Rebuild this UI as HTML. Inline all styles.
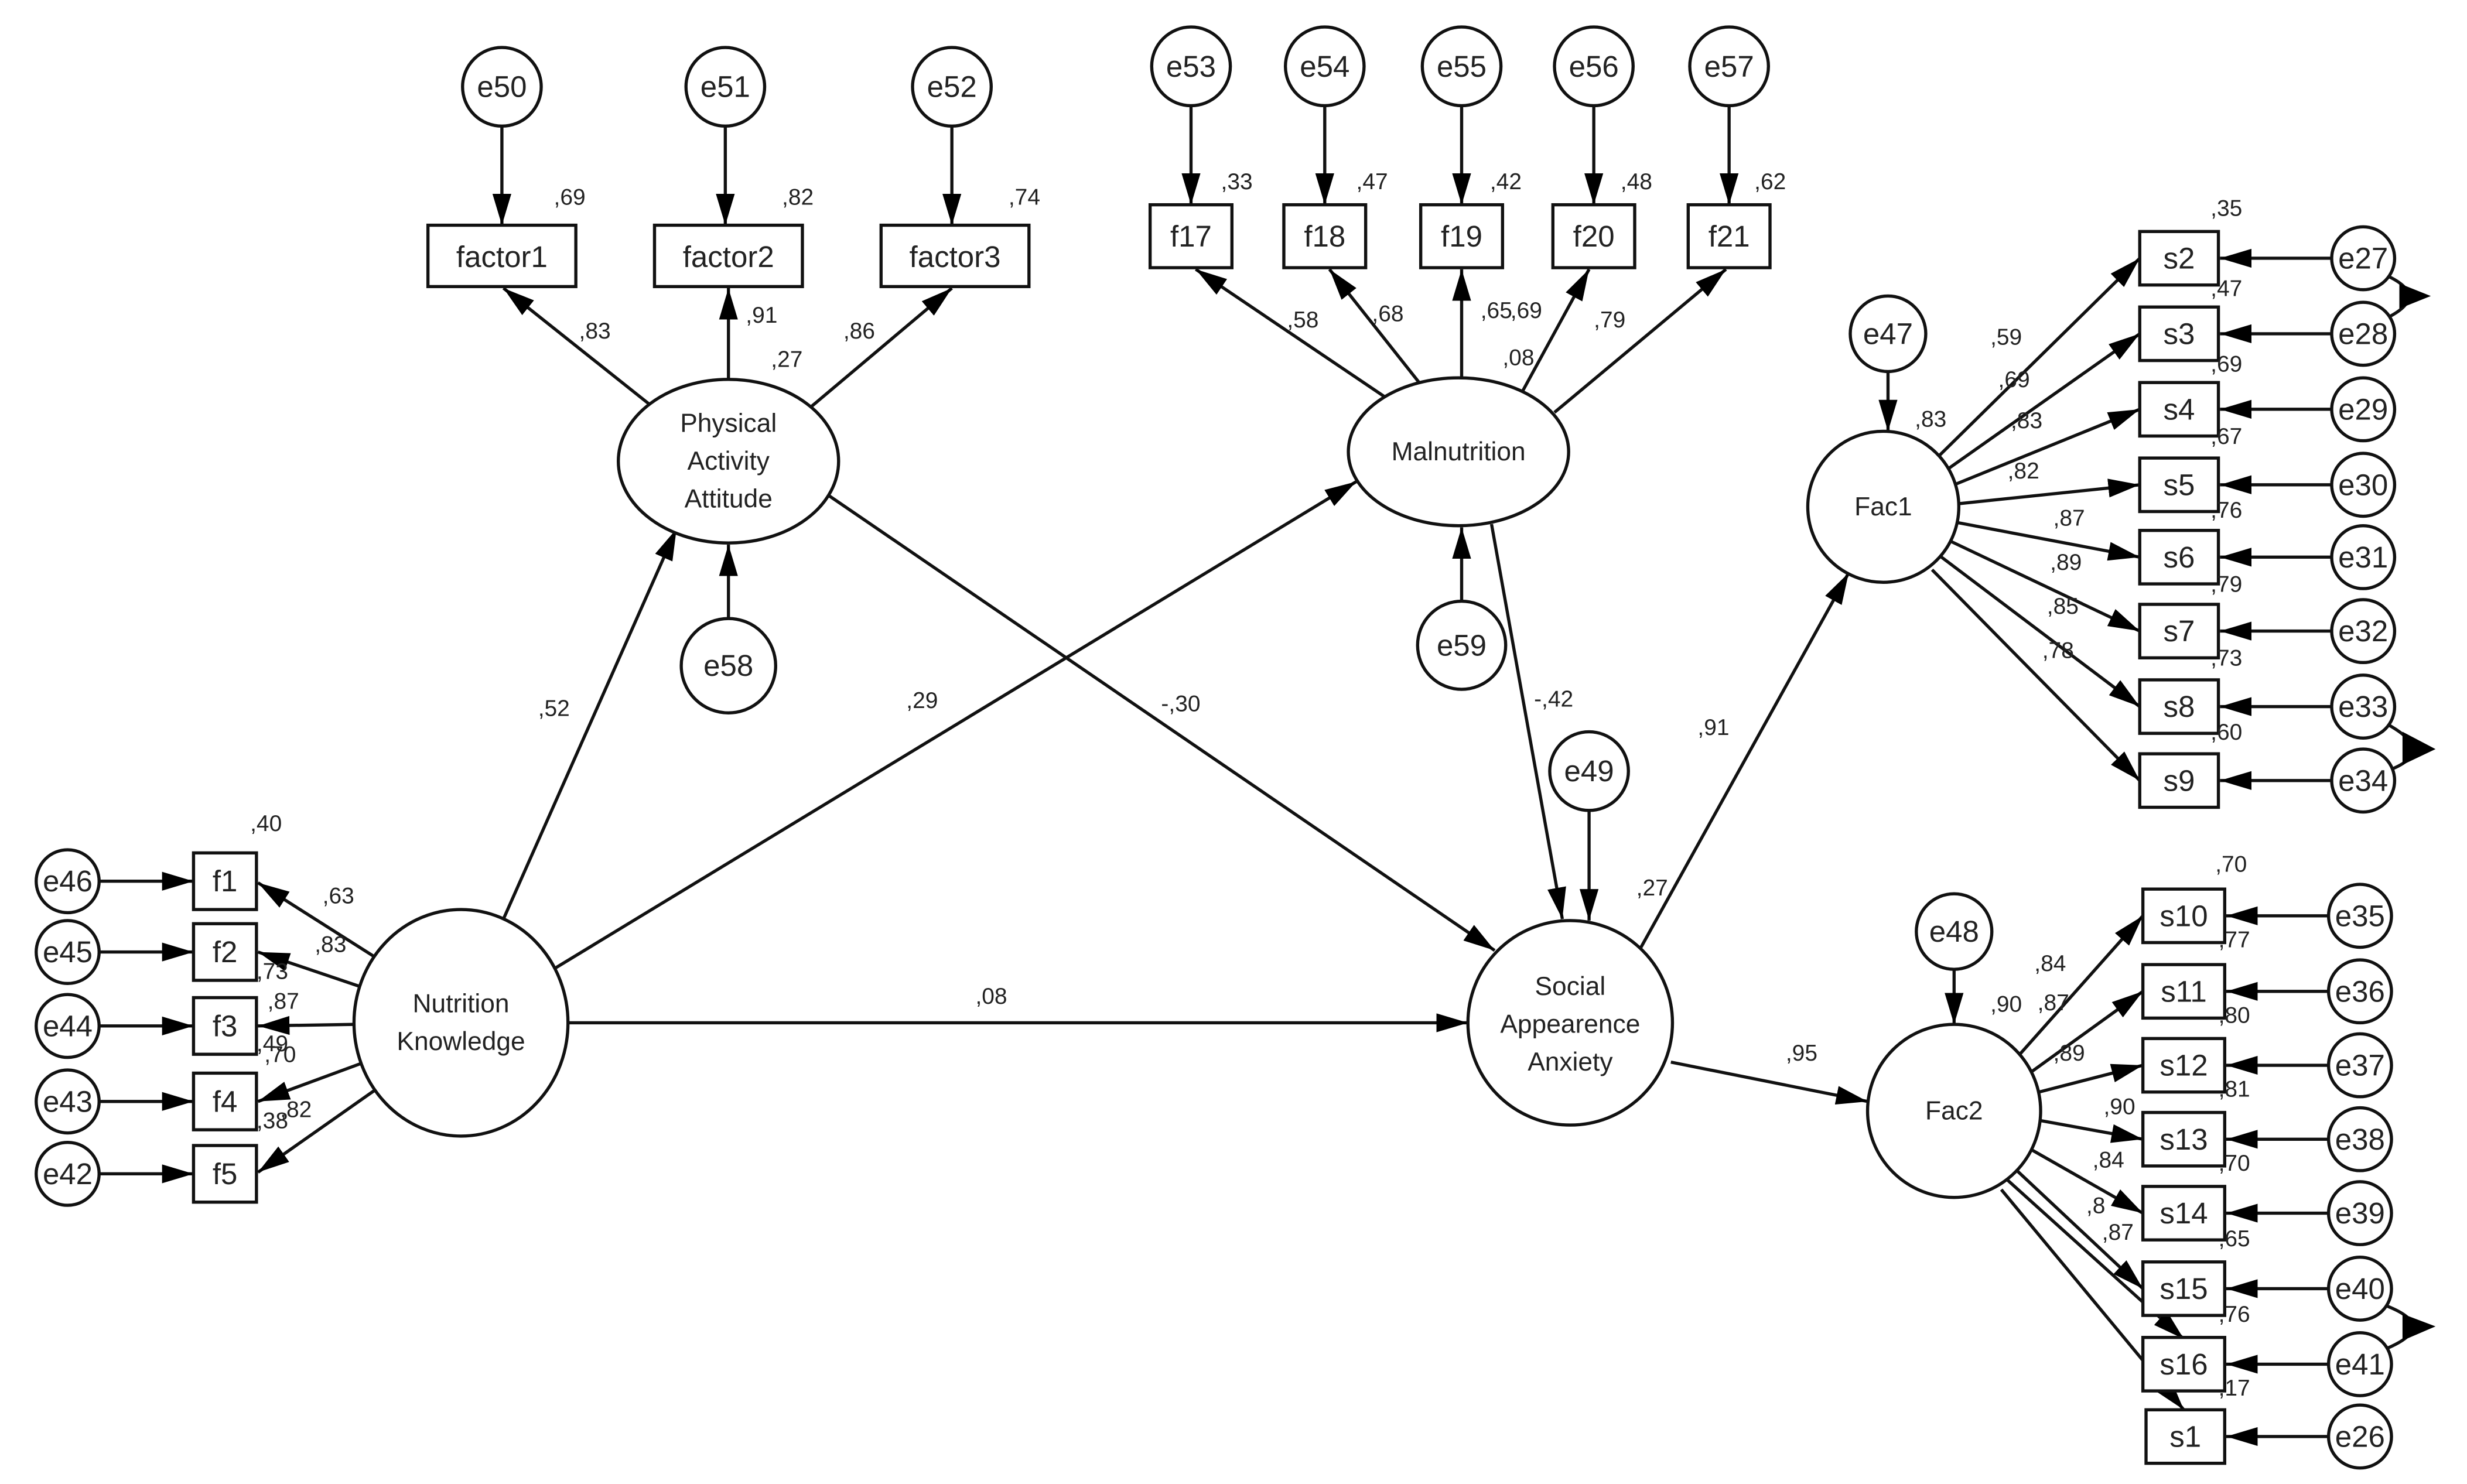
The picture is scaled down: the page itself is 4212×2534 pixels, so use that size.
<!DOCTYPE html>
<html><head><meta charset="utf-8"><style>
html,body{margin:0;padding:0;background:#fff;}
svg{display:block;}
text{font-family:"Liberation Sans",Arial,sans-serif;fill:#222;}
.n{font-size:19px;text-anchor:middle;dominant-baseline:central;}
.l{font-size:14.5px;}
.s{font-size:16.5px;text-anchor:middle;dominant-baseline:central;}
</style></head><body>
<svg width="4212" height="2534" viewBox="0 0 1568 943" xmlns="http://www.w3.org/2000/svg">
<defs>
<marker id="a" viewBox="0 0 20 12" refX="20" refY="6" markerWidth="20" markerHeight="12" markerUnits="userSpaceOnUse" orient="auto">
<path d="M0,0 L20,6 L0,12 Z" fill="#000"/></marker>
</defs>
<rect width="1568" height="943" fill="#fff"/>
<g stroke="#111" stroke-width="2" fill="none" marker-end="url(#a)">
<!-- top PAA -->
<line x1="319" y1="80" x2="319" y2="143"/>
<line x1="461" y1="80" x2="461" y2="143"/>
<line x1="605" y1="80" x2="605" y2="143"/>
<line x1="413" y1="257" x2="320" y2="183"/>
<line x1="463" y1="241" x2="463" y2="183"/>
<line x1="516" y1="258" x2="605" y2="183"/>
<line x1="463" y1="393" x2="463" y2="346"/>
<!-- malnutrition -->
<line x1="757" y1="67" x2="757" y2="130"/>
<line x1="842" y1="67" x2="842" y2="130"/>
<line x1="929" y1="67" x2="929" y2="130"/>
<line x1="1013" y1="67" x2="1013" y2="130"/>
<line x1="1099" y1="67" x2="1099" y2="130"/>
<line x1="880" y1="252" x2="760" y2="171"/>
<line x1="902" y1="243" x2="845" y2="171"/>
<line x1="929" y1="240" x2="929" y2="171"/>
<line x1="968" y1="248" x2="1010" y2="171"/>
<line x1="988" y1="262" x2="1097" y2="171"/>
<line x1="929" y1="382" x2="929" y2="335"/>
<!-- structural -->
<line x1="320" y1="584" x2="430" y2="336"/>
<line x1="350" y1="617" x2="862" y2="306"/>
<line x1="527" y1="315" x2="950" y2="604"/>
<line x1="948" y1="333" x2="993" y2="584"/>
<line x1="1010" y1="515" x2="1010" y2="585"/>
<line x1="361" y1="650" x2="933" y2="650"/>
<line x1="1043" y1="602" x2="1175" y2="364"/>
<line x1="1062" y1="675" x2="1187" y2="700"/>
<!-- NK indicators -->
<line x1="238" y1="608" x2="164" y2="561"/>
<line x1="229" y1="627" x2="164" y2="605"/>
<line x1="225" y1="651" x2="164" y2="652"/>
<line x1="229" y1="676" x2="164" y2="700"/>
<line x1="238" y1="693" x2="164" y2="745"/>
<line x1="63" y1="560" x2="123" y2="560"/>
<line x1="63" y1="605" x2="123" y2="605"/>
<line x1="63" y1="652" x2="123" y2="652"/>
<line x1="63" y1="700" x2="123" y2="700"/>
<line x1="63" y1="746" x2="123" y2="746"/>
<!-- Fac1 -->
<line x1="1200" y1="236" x2="1200" y2="274"/>
<line x1="1232" y1="290" x2="1360" y2="164"/>
<line x1="1238" y1="298" x2="1360" y2="212"/>
<line x1="1242" y1="308" x2="1360" y2="260"/>
<line x1="1245" y1="320" x2="1360" y2="308"/>
<line x1="1244" y1="332" x2="1360" y2="354"/>
<line x1="1240" y1="344" x2="1360" y2="401"/>
<line x1="1234" y1="354" x2="1360" y2="449"/>
<line x1="1228" y1="362" x2="1360" y2="496"/>
<line x1="1482" y1="164" x2="1411" y2="164"/>
<line x1="1482" y1="212" x2="1411" y2="212"/>
<line x1="1482" y1="260" x2="1411" y2="260"/>
<line x1="1482" y1="308" x2="1411" y2="308"/>
<line x1="1482" y1="354" x2="1411" y2="354"/>
<line x1="1482" y1="401" x2="1411" y2="401"/>
<line x1="1482" y1="449" x2="1411" y2="449"/>
<line x1="1482" y1="496" x2="1411" y2="496"/>
<!-- Fac2 -->
<line x1="1242" y1="616" x2="1242" y2="651"/>
<line x1="1282" y1="672" x2="1362" y2="582"/>
<line x1="1290" y1="682" x2="1362" y2="630"/>
<line x1="1296" y1="694" x2="1362" y2="677"/>
<line x1="1296" y1="712" x2="1362" y2="724"/>
<line x1="1290" y1="730" x2="1362" y2="771"/>
<line x1="1282" y1="744" x2="1362" y2="819"/>
<line x1="1276" y1="750" x2="1388" y2="851"/>
<line x1="1272" y1="756" x2="1388" y2="896"/>
<line x1="1480" y1="582" x2="1415" y2="582"/>
<line x1="1480" y1="630" x2="1415" y2="630"/>
<line x1="1480" y1="677" x2="1415" y2="677"/>
<line x1="1480" y1="724" x2="1415" y2="724"/>
<line x1="1480" y1="771" x2="1415" y2="771"/>
<line x1="1480" y1="819" x2="1415" y2="819"/>
<line x1="1480" y1="867" x2="1415" y2="867"/>
<line x1="1480" y1="913" x2="1415" y2="913"/>
</g>
<!-- covariances -->
<g stroke="#111" stroke-width="2" fill="none">
<path d="M1517,175 Q1545,188 1517,202"/>
<path d="M1517,460 Q1550,478 1517,490"/>
<path d="M1517,830 Q1550,843 1517,857"/>
</g>
<g fill="#000">
<path d="M1525,180 L1545,188 L1525,196 Z"/>
<path d="M1527,465 L1548,476 L1527,486 Z"/>
<path d="M1527,835 L1548,843 L1527,852 Z"/>
</g>
<!-- shapes -->
<g stroke="#111" stroke-width="2" fill="#fff">
<circle cx="319" cy="55" r="25"/><circle cx="461" cy="55" r="25"/><circle cx="605" cy="55" r="25"/>
<rect x="272" y="143" width="94" height="39"/><rect x="416" y="143" width="94" height="39"/><rect x="560" y="143" width="94" height="39"/>
<ellipse cx="463" cy="293" rx="70" ry="52"/>
<circle cx="463" cy="423" r="30"/>
<circle cx="757" cy="42" r="25"/><circle cx="842" cy="42" r="25"/><circle cx="929" cy="42" r="25"/><circle cx="1013" cy="42" r="25"/><circle cx="1099" cy="42" r="25"/>
<rect x="731" y="130" width="52" height="40"/><rect x="816" y="130" width="52" height="40"/><rect x="903" y="130" width="52" height="40"/><rect x="987" y="130" width="52" height="40"/><rect x="1073" y="130" width="52" height="40"/>
<ellipse cx="927" cy="287" rx="70" ry="47"/>
<circle cx="929" cy="410" r="28"/>
<ellipse cx="293" cy="650" rx="68" ry="72"/>
<rect x="123" y="542" width="40" height="36"/><rect x="123" y="587" width="40" height="36"/><rect x="123" y="634" width="40" height="36"/><rect x="123" y="682" width="40" height="36"/><rect x="123" y="728" width="40" height="36"/>
<circle cx="43" cy="560" r="20"/><circle cx="43" cy="605" r="20"/><circle cx="43" cy="652" r="20"/><circle cx="43" cy="700" r="20"/><circle cx="43" cy="746" r="20"/>
<circle cx="998" cy="650" r="65"/>
<circle cx="1010" cy="490" r="25"/>
<circle cx="1197" cy="322" r="48"/><circle cx="1200" cy="212" r="24"/>
<rect x="1360" y="147" width="50" height="34"/><rect x="1360" y="195" width="50" height="34"/><rect x="1360" y="243" width="50" height="34"/><rect x="1360" y="291" width="50" height="34"/><rect x="1360" y="337" width="50" height="34"/><rect x="1360" y="384" width="50" height="34"/><rect x="1360" y="432" width="50" height="34"/><rect x="1360" y="479" width="50" height="34"/>
<circle cx="1502" cy="164" r="20"/><circle cx="1502" cy="212" r="20"/><circle cx="1502" cy="260" r="20"/><circle cx="1502" cy="308" r="20"/><circle cx="1502" cy="354" r="20"/><circle cx="1502" cy="401" r="20"/><circle cx="1502" cy="449" r="20"/><circle cx="1502" cy="496" r="20"/>
<circle cx="1242" cy="706" r="55"/><circle cx="1242" cy="592" r="24"/>
<rect x="1362" y="565" width="52" height="34"/><rect x="1362" y="613" width="52" height="34"/><rect x="1362" y="660" width="52" height="34"/><rect x="1362" y="707" width="52" height="34"/><rect x="1362" y="754" width="52" height="34"/><rect x="1362" y="802" width="52" height="34"/><rect x="1362" y="850" width="52" height="34"/><rect x="1364" y="896" width="50" height="34"/>
<circle cx="1500" cy="582" r="20"/><circle cx="1500" cy="630" r="20"/><circle cx="1500" cy="677" r="20"/><circle cx="1500" cy="724" r="20"/><circle cx="1500" cy="771" r="20"/><circle cx="1500" cy="819" r="20"/><circle cx="1500" cy="867" r="20"/><circle cx="1500" cy="913" r="20"/>
</g>
<!-- node labels -->
<g class="n">
<text x="319" y="55">e50</text><text x="461" y="55">e51</text><text x="605" y="55">e52</text>
<text x="319" y="163">factor1</text><text x="463" y="163">factor2</text><text x="607" y="163">factor3</text>
<text x="463" y="423">e58</text>
<text x="757" y="42">e53</text><text x="842" y="42">e54</text><text x="929" y="42">e55</text><text x="1013" y="42">e56</text><text x="1099" y="42">e57</text>
<text x="757" y="150">f17</text><text x="842" y="150">f18</text><text x="929" y="150">f19</text><text x="1013" y="150">f20</text><text x="1099" y="150">f21</text>
<text x="929" y="410">e59</text>
<text x="143" y="560">f1</text><text x="143" y="605">f2</text><text x="143" y="652">f3</text><text x="143" y="700">f4</text><text x="143" y="746">f5</text>
<text x="43" y="560">e46</text><text x="43" y="605">e45</text><text x="43" y="652">e44</text><text x="43" y="700">e43</text><text x="43" y="746">e42</text>
<text x="1010" y="490">e49</text>
<text x="1200" y="212">e47</text><text x="1242" y="592">e48</text>
<text x="1385" y="164">s2</text><text x="1385" y="212">s3</text><text x="1385" y="260">s4</text><text x="1385" y="308">s5</text><text x="1385" y="354">s6</text><text x="1385" y="401">s7</text><text x="1385" y="449">s8</text><text x="1385" y="496">s9</text>
<text x="1502" y="164">e27</text><text x="1502" y="212">e28</text><text x="1502" y="260">e29</text><text x="1502" y="308">e30</text><text x="1502" y="354">e31</text><text x="1502" y="401">e32</text><text x="1502" y="449">e33</text><text x="1502" y="496">e34</text>
<text x="1388" y="582">s10</text><text x="1388" y="630">s11</text><text x="1388" y="677">s12</text><text x="1388" y="724">s13</text><text x="1388" y="771">s14</text><text x="1388" y="819">s15</text><text x="1388" y="867">s16</text><text x="1389" y="913">s1</text>
<text x="1500" y="582">e35</text><text x="1500" y="630">e36</text><text x="1500" y="677">e37</text><text x="1500" y="724">e38</text><text x="1500" y="771">e39</text><text x="1500" y="819">e40</text><text x="1500" y="867">e41</text><text x="1500" y="913">e26</text>
</g>
<g class="s">
<text x="463" y="269">Physical</text><text x="463" y="293">Activity</text><text x="463" y="317">Attitude</text>
<text x="927" y="287">Malnutrition</text>
<text x="293" y="638">Nutrition</text><text x="293" y="662">Knowledge</text>
<text x="998" y="627">Social</text><text x="998" y="651">Appearence</text><text x="998" y="675">Anxiety</text>
<text x="1197" y="322">Fac1</text><text x="1242" y="706">Fac2</text>
</g>
<!-- coefficient labels -->
<g class="l">
<text x="352" y="130">,69</text><text x="497" y="130">,82</text><text x="641" y="130">,74</text>
<text x="368" y="215">,83</text><text x="474" y="205">,91</text><text x="490" y="233">,27</text><text x="536" y="215">,86</text>
<text x="776" y="120">,33</text><text x="862" y="120">,47</text><text x="947" y="120">,42</text><text x="1030" y="120">,48</text><text x="1115" y="120">,62</text>
<text x="818" y="208">,58</text><text x="872" y="204">,68</text><text x="941" y="202">,65</text><text x="960" y="202">,69</text><text x="955" y="232">,08</text><text x="1013" y="208">,79</text>
<text x="342" y="455">,52</text><text x="576" y="450">,29</text><text x="738" y="452">-,30</text><text x="975" y="449">-,42</text>
<text x="620" y="638">,08</text>
<text x="1079" y="467">,91</text><text x="1040" y="569">,27</text><text x="1135" y="674">,95</text>
<text x="1217" y="271">,83</text><text x="1265" y="643">,90</text>
<text x="1265" y="219">,59</text><text x="1270" y="246">,69</text><text x="1278" y="272">,83</text><text x="1276" y="304">,82</text><text x="1305" y="334">,87</text><text x="1303" y="362">,89</text><text x="1301" y="390">,85</text><text x="1298" y="418">,78</text>
<text x="1405" y="137">,35</text><text x="1405" y="188">,47</text><text x="1405" y="236">,69</text><text x="1405" y="282">,67</text><text x="1405" y="329">,76</text><text x="1405" y="376">,79</text><text x="1405" y="423">,73</text><text x="1405" y="470">,60</text>
<text x="1293" y="617">,84</text><text x="1295" y="642">,87</text><text x="1305" y="674">,89</text><text x="1337" y="708">,90</text><text x="1330" y="742">,84</text><text x="1326" y="771">,8</text><text x="1336" y="788">,87</text>
<text x="1408" y="554">,70</text><text x="1410" y="602">,77</text><text x="1410" y="650">,80</text><text x="1410" y="697">,81</text><text x="1410" y="744">,70</text><text x="1410" y="792">,65</text><text x="1410" y="840">,76</text><text x="1410" y="887">,17</text>
<text x="159" y="528">,40</text><text x="205" y="574">,63</text><text x="200" y="605">,83</text><text x="163" y="622">,73</text><text x="170" y="641">,87</text><text x="163" y="668">,49</text><text x="168" y="675">,70</text><text x="178" y="710">,82</text><text x="163" y="717">,38</text>
</g>
</svg>
</body></html>
